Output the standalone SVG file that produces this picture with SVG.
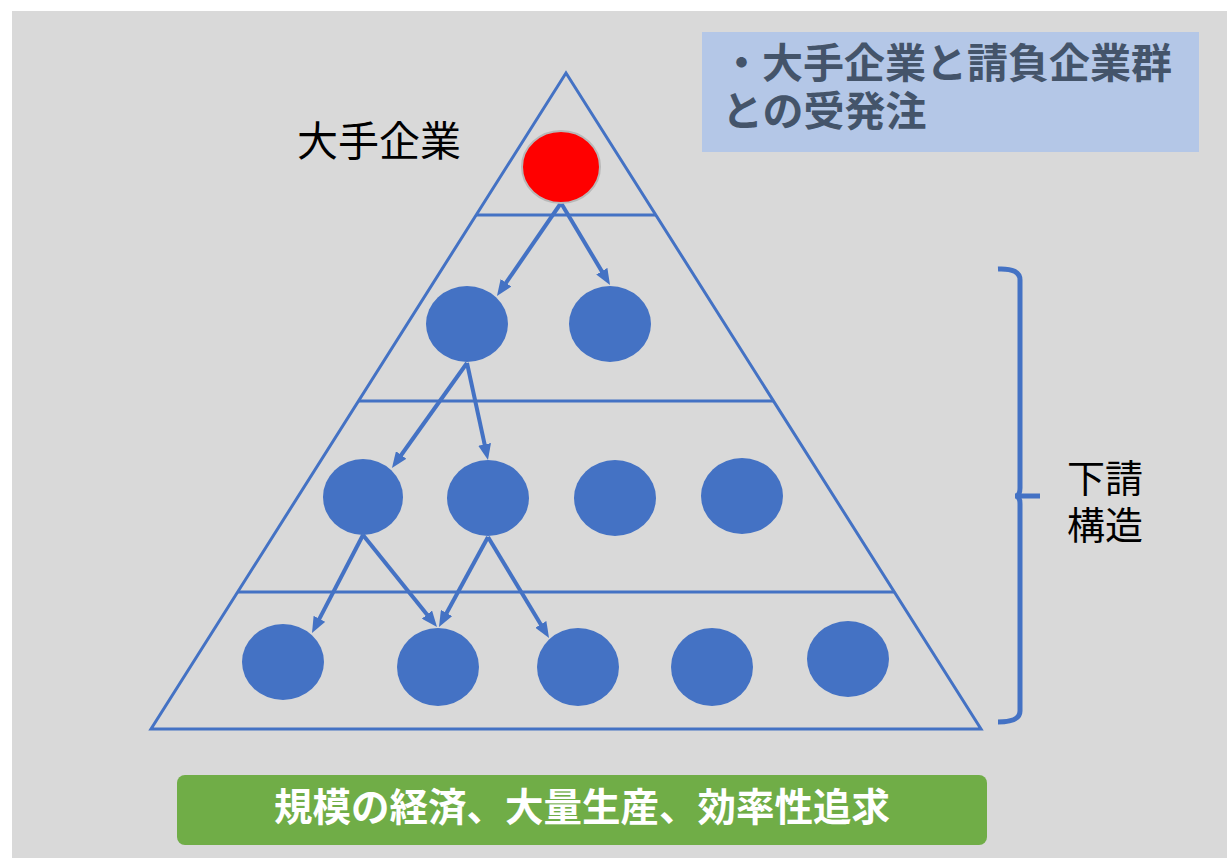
<svg xmlns="http://www.w3.org/2000/svg" width="1227" height="858" viewBox="0 0 1227 858">
<style>
.tri{fill:none;stroke:#4472c4;stroke-width:3}
.node{fill:#4472c4}
.conn{stroke:#4472c4;stroke-width:4;fill:none}
.jp{font-family:"Noto Sans CJK JP","Noto Sans",sans-serif}
</style>
<defs>
<marker id="ah" viewBox="0 0 16 13" markerUnits="userSpaceOnUse" markerWidth="16" markerHeight="13" refX="8" refY="6.5" orient="auto">
<path d="M0,0 L16,6.5 L0,13 z" fill="#4472c4"/>
</marker>
</defs>
<rect x="12" y="11" width="1215" height="847" fill="#d9d9d9"/>
<g id="pyramid">
<polygon class="tri" points="566,73 151,729 981,729"/>
<line class="tri" x1="476" y1="215" x2="656" y2="215"/>
<line class="tri" x1="358" y1="401" x2="774" y2="401"/>
<line class="tri" x1="238" y1="592" x2="894" y2="592"/>
</g>
<g id="connectors">
<line class="conn" x1="561" y1="203" x2="501.5" y2="289.4" marker-end="url(#ah)"/>
<line class="conn" x1="561" y1="203" x2="605.9" y2="278.1" marker-end="url(#ah)"/>
<line class="conn" x1="467" y1="363" x2="396.6" y2="461.5" marker-end="url(#ah)"/>
<line class="conn" x1="467" y1="363" x2="486.3" y2="452.2" marker-end="url(#ah)"/>
<line class="conn" x1="363" y1="535" x2="315.7" y2="625.9" marker-end="url(#ah)"/>
<line class="conn" x1="363" y1="535" x2="432" y2="620.8" marker-end="url(#ah)"/>
<line class="conn" x1="488" y1="537" x2="442.8" y2="620" marker-end="url(#ah)"/>
<line class="conn" x1="488" y1="537" x2="544.9" y2="631.2" marker-end="url(#ah)"/>
</g>
<g id="n-top"><ellipse cx="561" cy="167" rx="39" ry="36" fill="#ff0000" stroke="#b8b8b8" stroke-width="2"/></g>
<g id="n21"><ellipse class="node" cx="467" cy="324" rx="41" ry="38"/></g>
<g id="n22"><ellipse class="node" cx="610" cy="324" rx="41" ry="38"/></g>
<g id="n31"><ellipse class="node" cx="363" cy="497" rx="40" ry="38"/></g>
<g id="n32"><ellipse class="node" cx="488" cy="498" rx="41" ry="38"/></g>
<g id="n33"><ellipse class="node" cx="615" cy="498" rx="41" ry="38"/></g>
<g id="n34"><ellipse class="node" cx="742" cy="496" rx="41" ry="38"/></g>
<g id="n41"><ellipse class="node" cx="283" cy="662" rx="41" ry="38"/></g>
<g id="n42"><ellipse class="node" cx="438" cy="667" rx="41" ry="39"/></g>
<g id="n43"><ellipse class="node" cx="578" cy="667" rx="41" ry="39"/></g>
<g id="n44"><ellipse class="node" cx="712" cy="667" rx="41" ry="39"/></g>
<g id="n45"><ellipse class="node" cx="848" cy="659" rx="41" ry="38"/></g>
<g id="label-top"><text class="jp" x="297" y="156" font-size="41" fill="#000">大手企業</text></g>
<g id="infobox">
<rect x="702" y="32" width="497" height="120" fill="#b4c7e7"/>
<text class="jp" x="721" y="78" font-size="41" font-weight="bold" fill="#44546a">・大手企業と請負企業群</text>
<text class="jp" x="722" y="126" font-size="41" font-weight="bold" fill="#44546a">との受発注</text>
</g>
<g id="bracket">
<path d="M998,269 Q1020,268 1020,280 V488 Q1020,496 1015,496 Q1020,496 1020,504 V711 Q1020,722 998,722 M1015,496 H1040" fill="none" stroke="#4472c4" stroke-width="5"/>
<text class="jp" x="1067" y="492" font-size="38" fill="#000">下請</text>
<text class="jp" x="1067" y="539" font-size="38" fill="#000">構造</text>
</g>
<g id="greenbox">
<rect x="177" y="775" width="810" height="70" rx="8" fill="#70ad47"/>
<text class="jp" x="582" y="821" font-size="38.5" font-weight="bold" fill="#fff" text-anchor="middle">規模の経済、大量生産、効率性追求</text>
</g>
</svg>
